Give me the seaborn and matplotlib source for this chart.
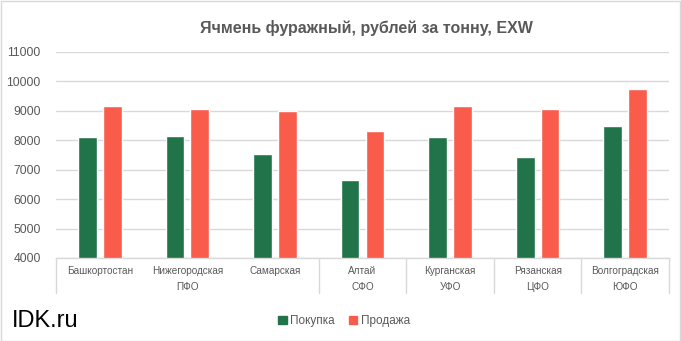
import matplotlib
matplotlib.use("Agg")
import matplotlib.pyplot as plt
import matplotlib.transforms as mtransforms
from matplotlib.patches import Rectangle
import seaborn as sns
import pandas as pd

regions = ["Башкортостан", "Нижегородская", "Самарская", "Алтай", "Курганская", "Рязанская", "Волгоградская"]
districts = ["ПФО", "ПФО", "ПФО", "СФО", "УФО", "ЦФО", "ЮФО"]
buy = [8120, 8160, 7540, 6660, 8120, 7420, 8470]
sell = [9160, 9050, 8990, 8330, 9160, 9050, 9740]
series = ["Покупка", "Продажа"]
colors = ["#21734A", "#FA5C4C"]
title = "Ячмень фуражный, рублей за тонну, EXW"
yticks = [4000, 5000, 6000, 7000, 8000, 9000, 10000, 11000]

sns.set_theme(style="white")
plt.rcParams["font.family"] = ["Liberation Sans", "DejaVu Sans"]

df = pd.DataFrame({
    "region": regions * 2,
    "value": buy + sell,
    "series": [series[0]] * len(regions) + [series[1]] * len(regions),
})

W, H = 681, 341
fig = plt.figure(figsize=(W / 100, H / 100), dpi=100)
ax = fig.add_axes([56 / W, 1 - 258 / H, (669 - 56) / W, (258 - 52) / H])

sns.barplot(data=df, x="region", y="value", hue="series", order=regions,
            hue_order=series, palette=colors, width=0.57, gap=0.25,
            saturation=1, ax=ax, legend=False, errorbar=None)

ax.set_ylim(yticks[0], yticks[-1])
ax.set_xlim(-0.5, len(regions) - 0.5)
ax.set_yticks(yticks)
ax.set_yticklabels([str(t) for t in yticks])
ax.yaxis.grid(True, color="#D9D9D9", linewidth=1)
ax.set_axisbelow(True)
for s in ["top", "right", "left"]:
    ax.spines[s].set_visible(False)
ax.spines["bottom"].set_color("#D9D9D9")
ax.spines["bottom"].set_linewidth(1)
ax.set_xlabel("")
ax.set_ylabel("")
ax.tick_params(axis="y", length=0, pad=11, labelsize=8.8, labelcolor="#595959")
ax.tick_params(axis="x", length=0, pad=6, labelsize=7.2, labelcolor="#595959")
ax.set_xticks(range(len(regions)))
ax.set_xticklabels(regions)

# secondary (district) level
trans = mtransforms.blended_transform_factory(ax.transData, ax.transAxes)
px = 1 / (258 - 52)
groups = []
for i, d in enumerate(districts):
    if groups and groups[-1][0] == d:
        groups[-1][2] = i
    else:
        groups.append([d, i, i])
bounds = [-0.5] + [g[2] + 0.5 for g in groups]
for b in bounds:
    ax.plot([b, b], [0, -35 * px], transform=trans, color="#D9D9D9",
            linewidth=1, clip_on=False)
for name, a, b in groups:
    ax.text((a + b) / 2, -29 * px, name, transform=trans, ha="center",
            va="center", fontsize=7.2, color="#595959")

fig.text(366 / W, 1 - 28 / H, title, ha="center", va="center",
         fontsize=11.5, fontweight="bold", color="#595959")

handles = [Rectangle((0, 0), 1, 1, color=c) for c in colors]
fig.legend(handles, series, loc="center", bbox_to_anchor=(344 / W, 1 - 321 / H),
           ncol=2, frameon=False, fontsize=8.5, labelcolor="#595959",
           handlelength=0.7, handleheight=0.7, handletextpad=0.3,
           columnspacing=1.2)

fig.text(12 / W, 1 - 321 / H, "IDK.ru", ha="left", va="center",
         fontsize=17, color="black")

fig.patches.append(Rectangle((0.5 / W, 0.5 / H), (W - 1.5) / W, (H - 1.5) / H,
                             transform=fig.transFigure, fill=False,
                             edgecolor="#D9D9D9", linewidth=1))

fig.savefig("out.png", dpi=100)
